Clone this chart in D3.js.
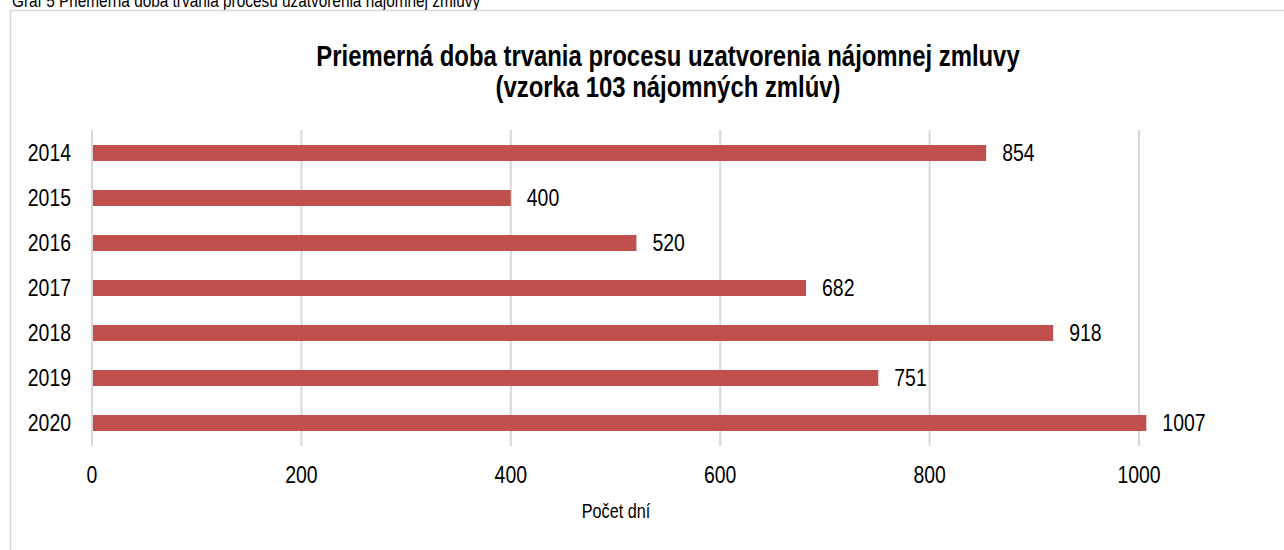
<!DOCTYPE html>
<html>
<head>
<meta charset="utf-8">
<script src="https://cdn.jsdelivr.net/npm/d3@7"></script>
<style>
    body { margin: 0; background: #fff; }
    text { font-family: "Liberation Sans", Arial, sans-serif; fill: #000; }
</style>
</head>
<body>
<div id="canvas"></div>
<script>
"use strict"

let svgWidth = 1284
let svgHeight = 550

let topMargin = 130;
let bottomMargin = 104;
let leftMargin = 92;
let plotRight = 1139;

// no Arial Narrow here, so the regular font is squeezed sideways
let narrow = 0.81

// chart data
let years = ["2014", "2015", "2016", "2017", "2018", "2019", "2020"]
let days = [854, 400, 520, 682, 918, 751, 1007]
let xTicks = [0, 200, 400, 600, 800, 1000]

function place(x, y) {
    return `translate(${x},${y}) scale(${narrow},1)`
}

let svg = d3.select("#canvas")
    .append("svg")
    .attr("width", svgWidth)
    .attr("height", svgHeight)

// caption above the chart, clipped at the top edge
svg.append("text")
    .attr("transform", place(12, 7))
    .style("font-size", "19px")
    .text("Graf 5 Priemerná doba trvania procesu uzatvorenia nájomnej zmluvy")

// chart frame
svg.append("rect")
    .attr("x", 10.5)
    .attr("y", 10.5)
    .attr("width", 1300)
    .attr("height", 600)
    .attr("fill", "none")
    .attr("stroke", "#d9d9d9")
    .attr("stroke-width", 1.5)

let xScale = d3.scaleLinear()
    .domain([0, 1000])
    .range([leftMargin, plotRight])

let yScale = d3.scaleBand()
    .domain(years)
    .range([topMargin, svgHeight - bottomMargin])
    .paddingInner(0.644)
    .paddingOuter(0.333)

// grid lines
svg.selectAll("line.grid")
    .data(xTicks)
    .join("line")
    .classed("grid", true)
    .attr("x1", d => xScale(d))
    .attr("x2", d => xScale(d))
    .attr("y1", topMargin)
    .attr("y2", svgHeight - bottomMargin)
    .attr("stroke", "#d9d9d9")
    .attr("stroke-width", 2)

// x tick labels
svg.selectAll("text.xtick")
    .data(xTicks)
    .join("text")
    .classed("xtick", true)
    .attr("transform", d => place(xScale(d), 483))
    .style("text-anchor", "middle")
    .style("font-size", "24px")
    .text(d => d)

// year labels
svg.selectAll("text.ytick")
    .data(years)
    .join("text")
    .classed("ytick", true)
    .attr("transform", d => place(71, yScale(d) + yScale.bandwidth() / 2))
    .attr("dy", "0.35em")
    .style("text-anchor", "end")
    .style("font-size", "24px")
    .text(d => d)

// bars
svg.selectAll("rect.bar")
    .data(days)
    .join("rect")
    .classed("bar", true)
    .attr("x", xScale(0) + 1)
    .attr("y", (d, i) => yScale(years[i]))
    .attr("width", d => xScale(d) - xScale(0) - 1)
    .attr("height", yScale.bandwidth())
    .attr("fill", "#c0504d")

// value labels
svg.selectAll("text.value")
    .data(days)
    .join("text")
    .classed("value", true)
    .attr("transform", (d, i) => place(xScale(d) + 16, yScale(years[i]) + yScale.bandwidth() / 2))
    .attr("dy", "0.35em")
    .style("font-size", "24px")
    .text(d => d)

// axis title
svg.append("text")
    .attr("transform", place(616, 518))
    .style("text-anchor", "middle")
    .style("font-size", "20px")
    .text("Počet dní")

// chart title
svg.append("text")
    .attr("transform", place(668, 66))
    .style("text-anchor", "middle")
    .style("font-size", "29.5px")
    .style("font-weight", "bold")
    .text("Priemerná doba trvania procesu uzatvorenia nájomnej zmluvy")

svg.append("text")
    .attr("transform", place(668, 97))
    .style("text-anchor", "middle")
    .style("font-size", "29.5px")
    .style("font-weight", "bold")
    .text("(vzorka 103 nájomných zmlúv)")
</script>
</body>
</html>
